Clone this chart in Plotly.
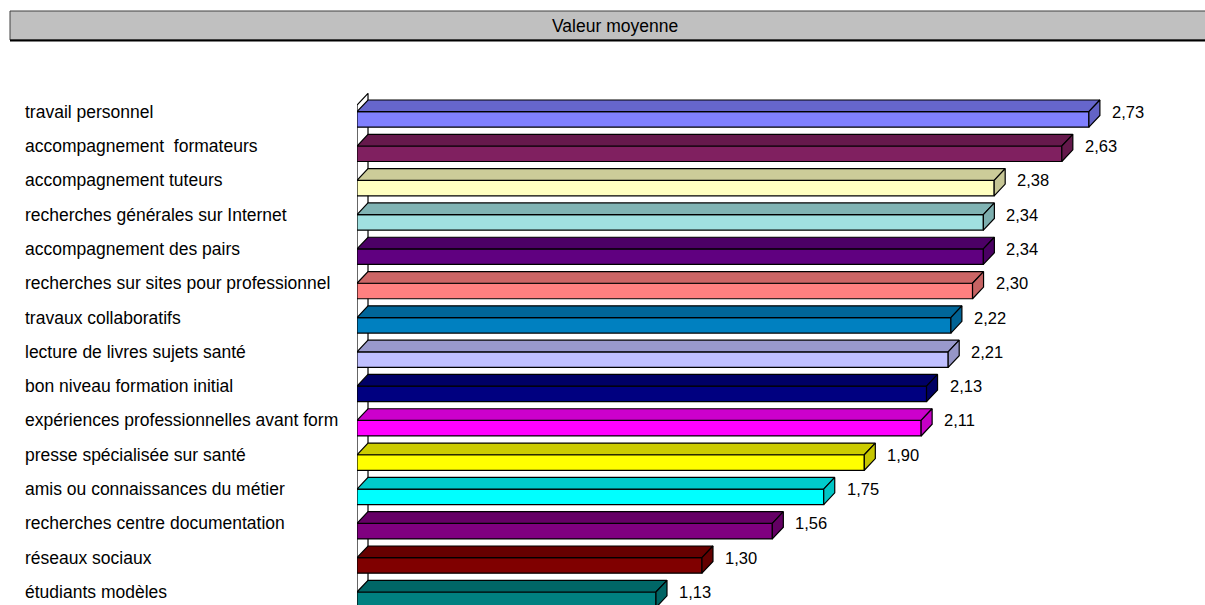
import plotly.graph_objects as go

# ---- data ----
categories = [
    "travail personnel",
    "accompagnement  formateurs",
    "accompagnement tuteurs",
    "recherches générales sur Internet",
    "accompagnement des pairs",
    "recherches sur sites pour professionnel",
    "travaux collaboratifs",
    "lecture de livres sujets santé",
    "bon niveau formation initial",
    "expériences professionnelles avant form",
    "presse spécialisée sur santé",
    "amis ou connaissances du métier",
    "recherches centre documentation",
    "réseaux sociaux",
    "étudiants modèles",
]
values = [2.73, 2.63, 2.38, 2.34, 2.34, 2.30, 2.22, 2.21, 2.13, 2.11, 1.90, 1.75, 1.56, 1.30, 1.13]
colors = ["#8080FF", "#802060", "#FFFFC0", "#A0E0E0", "#600080", "#FF8080", "#0080C0",
          "#C0C0FF", "#000080", "#FF00FF", "#FFFF00", "#00FFFF", "#800080", "#800000", "#008080"]
title_text = "Valeur moyenne"

# ---- geometry (axis units) ----
XMIN, XMAX = 0.025, 3.052
N = len(categories)
YMIN, YMAX = -0.379, N - 1 + 1.507
DX = 0.0407      # 3D depth in x units
DY = 0.341       # 3D depth in row units
FH = 0.452       # front face height
WALL_TOP = N - 1 + 0.195

W_PX = 1205 - 357 - 29
H_PX = 605 - 60


def shade(hexc, f):
    h = hexc.lstrip("#")
    r, g, b = (int(h[i:i + 2], 16) for i in (0, 2, 4))
    return "rgb(%d,%d,%d)" % (r * f, g * f, b * f)


fig = go.Figure()

# side wall
fig.add_trace(go.Scatter(
    x=[XMIN, XMIN, XMIN + DX, XMIN + DX, XMIN],
    y=[YMIN - 1, WALL_TOP, WALL_TOP + DY, YMIN - 1 + DY, YMIN - 1],
    mode="lines", fill="toself", fillcolor="white",
    line=dict(color="black", width=1.2), hoverinfo="skip", showlegend=False))

for i, (cat, v, c) in enumerate(zip(categories, values, colors)):
    y = N - 1 - i
    # front face
    fig.add_trace(go.Scatter(
        x=[XMIN, v, v, XMIN, XMIN], y=[y, y, y - FH, y - FH, y],
        mode="lines", fill="toself", fillcolor=c,
        line=dict(color="black", width=1.2), name=cat, showlegend=False))
    # top face
    fig.add_trace(go.Scatter(
        x=[XMIN, v, v + DX, XMIN + DX, XMIN], y=[y, y, y + DY, y + DY, y],
        mode="lines", fill="toself", fillcolor=shade(c, 0.8),
        line=dict(color="black", width=1.2), hoverinfo="skip", showlegend=False))
    # side face
    fig.add_trace(go.Scatter(
        x=[v, v + DX, v + DX, v, v], y=[y, y + DY, y + DY - FH, y - FH, y],
        mode="lines", fill="toself", fillcolor=shade(c, 0.78),
        line=dict(color="black", width=1.2), hoverinfo="skip", showlegend=False))

annotations = []
for i, (cat, v) in enumerate(zip(categories, values)):
    y = N - 1 - i
    annotations.append(dict(
        x=(23 - 357) / W_PX, xref="paper", y=y, yref="y", text=cat,
        xanchor="left", yanchor="middle", showarrow=False,
        font=dict(family="Liberation Sans, Arial", size=17.5, color="black")))
    annotations.append(dict(
        x=v + DX, xref="x", y=y, yref="y", text=f"{v:.2f}".replace(".", ","),
        xanchor="left", yanchor="middle", xshift=10, showarrow=False,
        font=dict(family="Liberation Sans, Arial", size=16.5, color="black")))

annotations.append(dict(
    x=(615 - 357) / W_PX, xref="paper", y=1 + (60 - 26) / H_PX, yref="paper",
    text=title_text, xanchor="center", yanchor="middle", showarrow=False,
    font=dict(family="Liberation Sans, Arial", size=17.5, color="black")))

shapes = [
    dict(type="rect", xref="paper", yref="paper",
         x0=(10 - 357) / W_PX, x1=1.1, y0=1 + (60 - 40) / H_PX, y1=1 + (60 - 11) / H_PX,
         fillcolor="#C0C0C0", line=dict(color="#404040", width=1), layer="below"),
    dict(type="line", xref="paper", yref="paper",
         x0=(10 - 357) / W_PX, x1=1.1, y0=1 + (60 - 40.5) / H_PX, y1=1 + (60 - 40.5) / H_PX,
         line=dict(color="black", width=2)),
]

fig.update_layout(
    width=1205, height=605,
    margin=dict(l=357, r=29, t=60, b=0, pad=0),
    paper_bgcolor="white", plot_bgcolor="white",
    xaxis=dict(range=[XMIN, XMAX], visible=False, fixedrange=True),
    yaxis=dict(range=[YMIN, YMAX], visible=False, fixedrange=True),
    annotations=annotations, shapes=shapes,
    showlegend=False,
)

fig.write_html("out.html", config={"displayModeBar": False},
               post_script="document.body.style.margin='0';document.body.style.overflow='hidden';")
